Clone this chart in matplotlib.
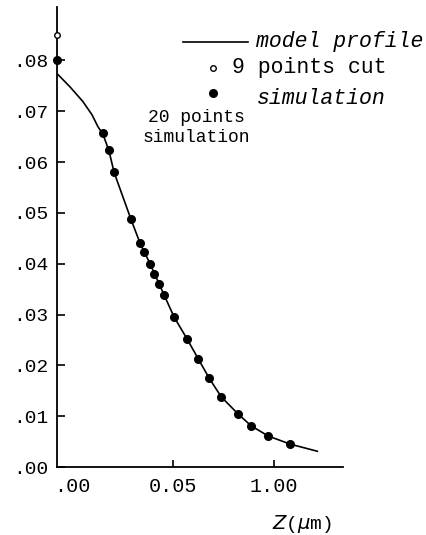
import matplotlib
matplotlib.use("Agg")
import matplotlib.pyplot as plt
from matplotlib.lines import Line2D

# model profile (Z in axis units, concentration)
model_z = [-0.074, -0.010, 0.054, 0.099, 0.129, 0.153, 0.183, 0.208, 0.292, 0.337, 0.386,
           0.431, 0.505, 0.569, 0.624, 0.678, 0.738, 0.822, 0.886, 0.970, 1.079, 1.213]
model_n = [0.0774, 0.0748, 0.0719, 0.0693, 0.0669, 0.0655, 0.0622, 0.0580, 0.0487, 0.0440, 0.0400,
           0.0360, 0.0295, 0.0252, 0.0213, 0.0175, 0.0138, 0.0104, 0.0081, 0.0061, 0.0045, 0.0031]

# 20 points simulation
sim20_z = [-0.074, 0.153, 0.183, 0.208, 0.292, 0.337, 0.356, 0.386, 0.406, 0.431,
           0.455, 0.505, 0.569, 0.624, 0.678, 0.738, 0.822, 0.886, 0.970, 1.079]
sim20_n = [0.0800, 0.0657, 0.0624, 0.0581, 0.0488, 0.0441, 0.0423, 0.0400, 0.0380, 0.0360,
           0.0339, 0.0295, 0.0252, 0.0213, 0.0175, 0.0138, 0.0104, 0.0081, 0.0061, 0.0045]

# 9 points cut simulation
cut9_z = [-0.074]
cut9_n = [0.0850]

yticks = [0.00, 0.01, 0.02, 0.03, 0.04, 0.05, 0.06, 0.07, 0.08]
ylabels = ['.00', '.01', '.02', '.03', '.04', '.05', '.06', '.07', '.08']
xticks = [0.0, 0.5, 1.0]
xlabels = ['.00', '0.05', '1.00']

FONT = 'Liberation Mono'
W, H = 427, 535


def fx(px):
    return px / W


def fy(py):
    return 1 - py / H


fig = plt.figure(figsize=(W / 100, H / 100), dpi=100)
# axes in pixel box: left 57, right 343, top 7, bottom 467
ax = fig.add_axes([fx(57), fy(467), fx(343 - 57), (467 - 7) / H])

ax.plot(model_z, model_n, color='black', lw=1.2)
ax.plot(cut9_z, cut9_n, ls='none', marker='o', ms=4, mfc='white', mec='black',
        mew=1.0, clip_on=False, zorder=5)
ax.plot(sim20_z, sim20_n, ls='none', marker='o', ms=5.5, color='black',
        clip_on=False, zorder=5)

ax.set_xlim(-0.074, 1.34)
ax.set_ylim(0, 0.0905)
for s in ['top', 'right']:
    ax.spines[s].set_visible(False)
ax.spines['left'].set_linewidth(1.3)
ax.spines['bottom'].set_linewidth(1.3)

ax.set_yticks(yticks)
ax.set_yticklabels(ylabels, fontfamily=FONT, fontsize=14)
ax.set_xticks(xticks)
ax.set_xticklabels(xlabels, fontfamily=FONT, fontsize=14.5)
ax.tick_params(axis='y', direction='in', length=6, width=1.2, pad=6)
ax.tick_params(axis='x', direction='in', length=5, width=1.2, pad=7)
ax.xaxis.get_major_ticks()[0].tick1line.set_visible(False)

# legend, drawn by hand to keep the original staggered layout
fig.add_artist(Line2D([fx(183), fx(248)], [fy(42), fy(42)], color='black', lw=1.2))
fig.add_artist(Line2D([fx(213)], [fy(68)], ls='none', marker='o', ms=4,
                      mfc='white', mec='black', mew=1.0))
fig.add_artist(Line2D([fx(213)], [fy(93)], ls='none', marker='o', ms=5.5,
                      color='black'))
fig.text(fx(256), fy(42), 'model profile', family=FONT, fontsize=15.5,
         style='italic', ha='left', va='center')
fig.text(fx(232), fy(68), '9 points cut', family=FONT, fontsize=15.5,
         ha='left', va='center')
fig.text(fx(257), fy(98), 'simulation', family=FONT, fontsize=15.5,
         style='italic', ha='left', va='center')

fig.text(fx(148), fy(117), '20 points', family=FONT, fontsize=13,
         ha='left', va='center')
fig.text(fx(143), fy(137), 'simulation', family=FONT, fontsize=13,
         ha='left', va='center')
fig.text(fx(302), fy(524), r'$Z$($\mu$m)', family=FONT, fontsize=14,
         ha='center', va='center')

fig.savefig('out.png', dpi=100)
